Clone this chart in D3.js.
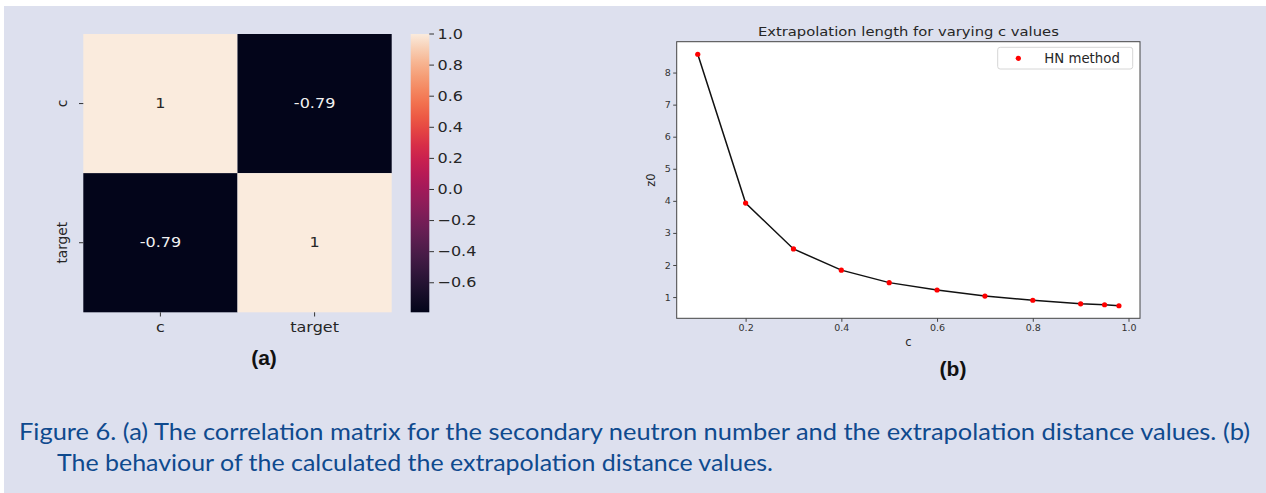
<!DOCTYPE html>
<html><head><meta charset="utf-8">
<script src="https://cdn.jsdelivr.net/npm/d3@7"></script>
<style>
html,body{margin:0;padding:0;background:#fff;}
svg{display:block;}
</style>
</head><body>
<svg id="fig" width="1266" height="493"></svg>
<script>
// ---------- data ----------
const heatRows = ["c", "target"];
const heatCols = ["c", "target"];
const corrValues = [[1, -0.79], [-0.79, 1]];
const corrLabels = [["1", "-0.79"], ["-0.79", "1"]];
const cbTicks = [1.0, 0.8, 0.6, 0.4, 0.2, 0.0, -0.2, -0.4, -0.6];

const cValues = [0.1, 0.2, 0.3, 0.4, 0.5, 0.6, 0.7, 0.8, 0.9, 0.95, 0.98];
const z0Values = [8.57, 3.93, 2.50, 1.84, 1.45, 1.22, 1.03, 0.90, 0.79, 0.76, 0.73];
const xTicks = [0.2, 0.4, 0.6, 0.8, 1.0];
const yTicks = [1, 2, 3, 4, 5, 6, 7, 8];
const seriesName = "HN method";
const chartTitle = "Extrapolation length for varying c values";
const captionLines = [
  "Figure 6. (a) The correlation matrix for the secondary neutron number and the extrapolation distance values. (b)",
  "The behaviour of the calculated the extrapolation distance values."
];

// rocket colormap stops
const rocketStops = ["#03051A","#221331","#451C47","#691F55","#921C5B","#B91657","#D92847","#EF5A3C","#F5875E","#F6B48E","#FAEBDD"];
const rocket = d3.interpolateRgbBasis(rocketStops);

const svg = d3.select("#fig");
const BG = "#dde0ee";
svg.append("rect").attr("width",1266).attr("height",493).attr("fill","#ffffff");
svg.append("rect").attr("x",4).attr("y",6).attr("width",1262).attr("height",487).attr("fill",BG);

const FONT = "DejaVu Sans, sans-serif";
const SX = 1.17; // horizontal stretch of panel (a) text

function stretchedText(g, x, y, txt, opts) {
  const t = g.append("text")
    .attr("transform", `translate(${x},${y}) ${opts.rotate ? "rotate(" + opts.rotate + ")" : ""} scale(${opts.sx || SX},1)`)
    .attr("font-family", FONT)
    .attr("font-size", opts.size || 13.7)
    .attr("fill", opts.fill || "#262626")
    .attr("text-anchor", opts.anchor || "middle")
    .attr("dominant-baseline", opts.baseline || "central")
    .text(txt);
  return t;
}

// ---------- panel (a): heatmap ----------
const hm = svg.append("g");
const hx = d3.scaleBand().domain(heatCols).range([83.3, 391.7]);
const hy = d3.scaleBand().domain(heatRows).range([34, 312.3]);
const cbScale = d3.scaleLinear().domain([-0.79, 1]).range([312.3, 34]);
const colorOf = v => rocket((v - (-0.79)) / (1 - (-0.79)));

heatRows.forEach((r, i) => {
  heatCols.forEach((c, j) => {
    const v = corrValues[i][j];
    hm.append("rect")
      .attr("x", hx(c)).attr("y", hy(r))
      .attr("width", hx.bandwidth()).attr("height", hy.bandwidth())
      .attr("fill", colorOf(v));
    stretchedText(hm, hx(c) + hx.bandwidth()/2, hy(r) + hy.bandwidth()/2, corrLabels[i][j], {
      fill: v > 0.3 ? "#262626" : "#f2f2f2"
    });
  });
});

// heatmap axes ticks
heatCols.forEach(c => {
  const x = hx(c) + hx.bandwidth()/2;
  hm.append("line").attr("x1", x).attr("x2", x).attr("y1", 312.3).attr("y2", 316.5)
    .attr("stroke", "#333").attr("stroke-width", 1);
  stretchedText(hm, x, 327, c, {});
});
heatRows.forEach(r => {
  const y = hy(r) + hy.bandwidth()/2;
  hm.append("line").attr("x1", 79).attr("x2", 83.3).attr("y1", y).attr("y2", y)
    .attr("stroke", "#333").attr("stroke-width", 1);
  stretchedText(hm, 62, y, r, {rotate: -90, sx: 1});
});

// colorbar
const defs = svg.append("defs");
const grad = defs.append("linearGradient").attr("id", "cbgrad")
  .attr("x1", 0).attr("y1", 1).attr("x2", 0).attr("y2", 0);
d3.range(0, 1.0001, 0.05).forEach(t => {
  grad.append("stop").attr("offset", t).attr("stop-color", rocket(t));
});
hm.append("rect").attr("x", 410.7).attr("y", 34).attr("width", 18.6).attr("height", 312.3 - 34)
  .attr("fill", "url(#cbgrad)");
cbTicks.forEach(v => {
  const y = cbScale(v);
  hm.append("line").attr("x1", 429.3).attr("x2", 434).attr("y1", y).attr("y2", y)
    .attr("stroke", "#333").attr("stroke-width", 1);
  const lbl = d3.format(".1f")(v).replace("-", "\u2212");
  stretchedText(hm, 437.5, y, lbl, {anchor: "start"});
});

// (a) label
svg.append("text").attr("x", 264).attr("y", 365).attr("text-anchor", "middle")
  .attr("font-family", "Liberation Sans, Arial, sans-serif").attr("font-weight", "bold")
  .attr("font-size", 21).attr("fill", "#111").text("(a)");

// ---------- panel (b): line chart ----------
const L = 676.7, R = 1140, T = 41.7, B = 318.3;
const xExt = d3.extent(cValues), yExt = d3.extent(z0Values);
const xPad = 0.05 * (xExt[1] - xExt[0]), yPad = 0.05 * (yExt[1] - yExt[0]);
const xs = d3.scaleLinear().domain([xExt[0] - xPad, xExt[1] + xPad]).range([L, R]);
const ys = d3.scaleLinear().domain([yExt[0] - yPad, yExt[1] + yPad]).range([B, T]);

const lc = svg.append("g");
lc.append("rect").attr("x", L).attr("y", T).attr("width", R - L).attr("height", B - T)
  .attr("fill", "#ffffff");

const pts = cValues.map((c, i) => [c, z0Values[i]]);
lc.append("path").datum(pts)
  .attr("d", d3.line().x(d => xs(d[0])).y(d => ys(d[1])))
  .attr("fill", "none").attr("stroke", "#111").attr("stroke-width", 1.5);
lc.selectAll("circle.pt").data(pts).enter().append("circle")
  .attr("class", "pt")
  .attr("cx", d => xs(d[0])).attr("cy", d => ys(d[1])).attr("r", 2.6)
  .attr("fill", "#ff0000");

const xAxis = d3.axisBottom(xs).tickValues(xTicks).tickFormat(d3.format(".1f")).tickSize(3.5).tickPadding(2.5);
const yAxis = d3.axisLeft(ys).tickValues(yTicks).tickFormat(d3.format("d")).tickSize(3.5).tickPadding(2.5);
const gx = lc.append("g").attr("transform", `translate(0,${B})`).call(xAxis);
const gy = lc.append("g").attr("transform", `translate(${L},0)`).call(yAxis);
[gx, gy].forEach(g => {
  g.select(".domain").remove();
  g.selectAll(".tick line").attr("stroke", "#444");
  g.selectAll(".tick text").attr("font-family", FONT).attr("font-size", 9.5).attr("fill", "#333");
});

lc.append("rect").attr("x", L).attr("y", T).attr("width", R - L).attr("height", B - T)
  .attr("fill", "none").attr("stroke", "#444").attr("stroke-width", 1);

lc.append("text").attr("transform", `translate(${(L + R) / 2},${T - 6}) scale(1.2,1)`).attr("text-anchor", "middle")
  .attr("font-family", FONT).attr("font-size", 12.3).attr("fill", "#262626").text(chartTitle);
lc.append("text").attr("x", (L + R) / 2).attr("y", 346).attr("text-anchor", "middle")
  .attr("font-family", FONT).attr("font-size", 11.5).attr("fill", "#262626").text("c");
lc.append("text").attr("transform", `translate(651,${(T + B) / 2}) rotate(-90)`).attr("text-anchor", "middle")
  .attr("dominant-baseline", "central")
  .attr("font-family", FONT).attr("font-size", 11.5).attr("fill", "#262626").text("z0");

// legend
const lg = lc.append("g");
lg.append("rect").attr("x", 997.7).attr("y", 47.3).attr("width", 135).attr("height", 21.7)
  .attr("rx", 2.5).attr("fill", "#ffffff").attr("stroke", "#d6d6d6").attr("stroke-width", 1);
lg.append("circle").attr("cx", 1018.3).attr("cy", 58.3).attr("r", 2.6).attr("fill", "#ff0000");
lg.append("text").attr("x", 1044.3).attr("y", 58.3).attr("dominant-baseline", "central")
  .attr("font-family", FONT).attr("font-size", 13.3).attr("fill", "#262626").text(seriesName);

// (b) label
svg.append("text").attr("x", 953).attr("y", 376).attr("text-anchor", "middle")
  .attr("font-family", "Liberation Sans, Arial, sans-serif").attr("font-weight", "bold")
  .attr("font-size", 21).attr("fill", "#111").text("(b)");

// ---------- caption ----------
const capColor = "#0f4a8e";
svg.append("text").attr("x", 19).attr("y", 440)
  .attr("font-family", "Lato, Open Sans, sans-serif").attr("font-size", 22.5).attr("fill", capColor)
  .attr("textLength", 1231).attr("lengthAdjust", "spacingAndGlyphs")
  .text(captionLines[0]);
svg.append("text").attr("x", 57).attr("y", 471)
  .attr("font-family", "Lato, Open Sans, sans-serif").attr("font-size", 22.5).attr("fill", capColor)
  .attr("textLength", 716).attr("lengthAdjust", "spacingAndGlyphs")
  .text(captionLines[1]);
</script>
</body></html>
